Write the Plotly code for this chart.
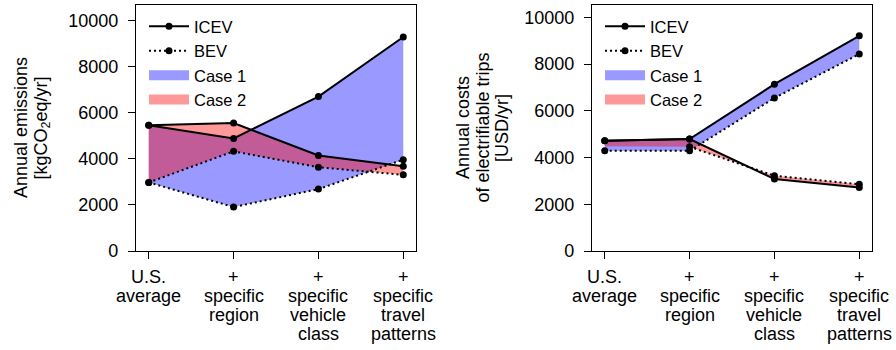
import plotly.graph_objects as go

# Scenario steps along the x axis (line breaks are rendered as separate rows)
categories = [
    "U.S.\naverage",
    "+\nspecific\nregion",
    "+\nspecific\nvehicle\nclass",
    "+\nspecific\ntravel\npatterns",
]

# Annual emissions [kgCO2eq/yr]
emis_icev_case1 = [5460, 4890, 6710, 9300]
emis_bev_case1 = [2980, 1910, 2690, 3970]
emis_icev_case2 = [5460, 5560, 4150, 3680]
emis_bev_case2 = [2980, 4330, 3640, 3310]

# Annual costs of electrifiable trips [USD/yr]
cost_icev_case1 = [4720, 4790, 7140, 9210]
cost_bev_case1 = [4290, 4290, 6550, 8430]
cost_icev_case2 = [4720, 4790, 3080, 2720]
cost_bev_case2 = [4480, 4460, 3220, 2860]

y_ticks = [0, 2000, 4000, 6000, 8000, 10000]

FONT = "Liberation Sans, Arial, sans-serif"
BLUE_FILL = "rgba(0,0,255,0.4)"
RED_FILL = "rgba(255,0,0,0.4)"
W, H = 896, 350
M_T, M_B = 5, 99
PLOT_H = H - M_T - M_B

xs = list(range(len(categories)))

panels = [
    dict(xa="x", ya="y", legend="legend",
         icev1=emis_icev_case1, bev1=emis_bev_case1,
         icev2=emis_icev_case2, bev2=emis_bev_case2, start2=0,
         domain=[136 / W, 416 / W], ymax=10690,
         title=["Annual emissions", "[kgCO<sub>2</sub>eq/yr]"],
         title_x=[21, 41.5], legend_x=144),
    dict(xa="x2", ya="y2", legend="legend2",
         icev1=cost_icev_case1, bev1=cost_bev_case1,
         icev2=cost_icev_case2, bev2=cost_bev_case2, start2=1,
         domain=[592 / W, 872 / W], ymax=10530,
         title=["Annual costs", "of electrifiable trips", "[USD/yr]"],
         title_x=[463, 482.5, 502], legend_x=600),
]

fig = go.Figure()

for p in panels:
    # shaded bands between ICEV and BEV for each case
    for upper, lower, color, name, rank in [
        (p["icev1"], p["bev1"], BLUE_FILL, "Case 1", 3),
        (p["icev2"], p["bev2"], RED_FILL, "Case 2", 4),
    ]:
        fig.add_trace(go.Scatter(
            x=xs + xs[::-1], y=upper + lower[::-1],
            fill="toself", fillcolor=color, mode="lines",
            line=dict(width=0, color=color),
            name=name, showlegend=False,
            xaxis=p["xa"], yaxis=p["ya"], hoverinfo="skip",
        ))
        # legend swatch for the band
        fig.add_trace(go.Scatter(
            x=[None], y=[None], mode="lines",
            line=dict(width=10, color=color),
            name=name, legend=p["legend"], legendrank=rank,
            xaxis=p["xa"], yaxis=p["ya"],
        ))

for p in panels:
    for icev, bev, start, show in [
        (p["icev1"], p["bev1"], 0, True),
        (p["icev2"], p["bev2"], p["start2"], False),
    ]:
        fig.add_trace(go.Scatter(
            x=xs, y=icev, mode="lines+markers",
            line=dict(color="black", width=2),
            marker=dict(color="black", size=7),
            name="ICEV", showlegend=show, legend=p["legend"], legendrank=1,
            xaxis=p["xa"], yaxis=p["ya"],
        ))
        fig.add_trace(go.Scatter(
            x=xs[start:], y=bev[start:], mode="lines+markers",
            line=dict(color="black", width=2, dash="2px,3px"),
            marker=dict(color="black", size=7),
            name="BEV", showlegend=show, legend=p["legend"], legendrank=2,
            xaxis=p["xa"], yaxis=p["ya"],
        ))

axis_common = dict(
    showline=True, linecolor="black", linewidth=1.3, mirror=True,
    ticks="outside", ticklen=7, tickwidth=1.3, tickcolor="black",
    showgrid=False, zeroline=False,
)

layout = dict(
    width=W, height=H,
    margin=dict(l=0, r=0, t=M_T, b=M_B),
    paper_bgcolor="white", plot_bgcolor="white",
    font=dict(family=FONT, size=18, color="black"),
)

annotations = []
for k, p in enumerate(panels):
    suffix = "" if k == 0 else "2"
    layout["xaxis" + suffix] = dict(
        axis_common, domain=p["domain"], range=[-0.15, 3.15],
        tickvals=xs, showticklabels=False,
        anchor="y" + suffix,
    )
    layout["yaxis" + suffix] = dict(
        axis_common, range=[0, p["ymax"]], tickvals=y_ticks,
        tickformat="d", ticklabelstandoff=6,
        tickfont=dict(size=18), anchor="x" + suffix,
    )
    layout[p["legend"]] = dict(
        x=p["legend_x"] / W, y=1 - 4 / PLOT_H, xanchor="left", yanchor="top",
        bgcolor="rgba(0,0,0,0)", font=dict(size=16.5),
        itemwidth=40, traceorder="normal",
    )
    # multi-row category labels under each tick
    for i, label in enumerate(categories):
        for j, row in enumerate(label.split("\n")):
            annotations.append(dict(
                x=i, xref=p["xa"], y=0, yref="paper",
                yanchor="middle", yshift=-(25.7 + 19 * j),
                text=row, showarrow=False, font=dict(size=18),
            ))
    # rotated y-axis title, one annotation per row
    for j, row in enumerate(p["title"]):
        annotations.append(dict(
            x=p["title_x"][j] / W, xref="paper", xanchor="center",
            y=0.5, yref="paper", yanchor="middle",
            text=row, textangle=-90, showarrow=False, font=dict(size=18),
        ))

layout["annotations"] = annotations
fig.update_layout(**layout)

fig.write_html("out.html")
